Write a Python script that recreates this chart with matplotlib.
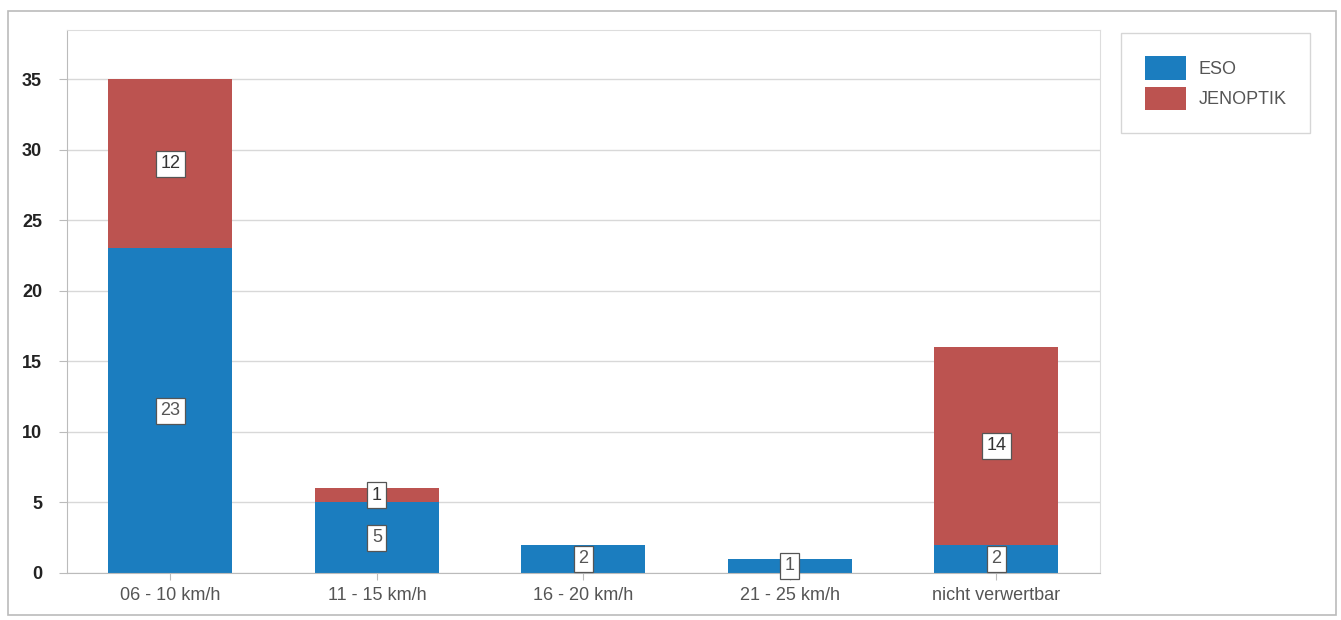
import matplotlib
matplotlib.use("Agg")
import matplotlib.pyplot as plt
from matplotlib.patches import Rectangle
import numpy as np

categories = ["06 - 10 km/h", "11 - 15 km/h", "16 - 20 km/h", "21 - 25 km/h", "nicht verwertbar"]
eso = [23, 5, 2, 1, 2]
jenoptik = [12, 1, 0, 0, 14]

blue = "#1b7dbf"
red = "#bc5350"

plt.rcParams["font.family"] = ["Liberation Sans", "DejaVu Sans"]

fig = plt.figure(figsize=(13.41, 6.2), dpi=100)
ax = fig.add_axes([0.05, 0.076, 0.77, 0.876])

x = np.arange(len(categories))
b1 = ax.bar(x, eso, width=0.6, color=blue, zorder=2)
b2 = ax.bar(x, jenoptik, width=0.6, bottom=eso, color=red, zorder=2)

# value boxes in the middle of every segment
box = dict(boxstyle="square,pad=0.25", fc="white", ec="#555555", lw=0.9)
for i in range(len(categories)):
    if eso[i]:
        ax.text(x[i], eso[i] / 2, str(eso[i]), ha="center", va="center",
                fontsize=13, color="#555555", bbox=box, zorder=3)
    if jenoptik[i]:
        ax.text(x[i], eso[i] + jenoptik[i] / 2, str(jenoptik[i]), ha="center", va="center",
                fontsize=13, color="#333333", bbox=box, zorder=3)

ax.set_xlim(-0.5, len(categories) - 0.5)
ax.set_ylim(0, 38.5)
ax.set_yticks(range(0, 36, 5))
ax.set_xticks(x)
ax.set_xticklabels(categories, fontsize=13, color="#555555")
ax.tick_params(axis="y", labelsize=13, colors="#222222", length=6, color="#bbbbbb", pad=12)
ax.tick_params(axis="x", length=5, color="#bbbbbb", pad=5)
for lab in ax.get_yticklabels():
    lab.set_fontweight("bold")
ax.grid(axis="y", color="#d8d8d8", lw=1, zorder=0)
for s in ["top", "right"]:
    ax.spines[s].set_color("#dddddd")
for s in ["left", "bottom"]:
    ax.spines[s].set_color("#bbbbbb")

leg = fig.legend([b1, b2], ["ESO", "JENOPTIK"], loc="upper left",
                 bbox_to_anchor=(0.836, 0.947), frameon=True, fancybox=False,
                 fontsize=13, handlelength=2.3, handleheight=1.6, handletextpad=0.7,
                 borderpad=1.3, labelspacing=0.4, borderaxespad=0, edgecolor="#cccccc")
leg.get_frame().set_linewidth(1.0)
for t in leg.get_texts():
    t.set_color("#555555")

fig.patches.append(Rectangle((0.006, 0.008), 0.99, 0.975, transform=fig.transFigure,
                             fill=False, ec="#bbbbbb", lw=1.2))

fig.savefig("out.png", dpi=100)
